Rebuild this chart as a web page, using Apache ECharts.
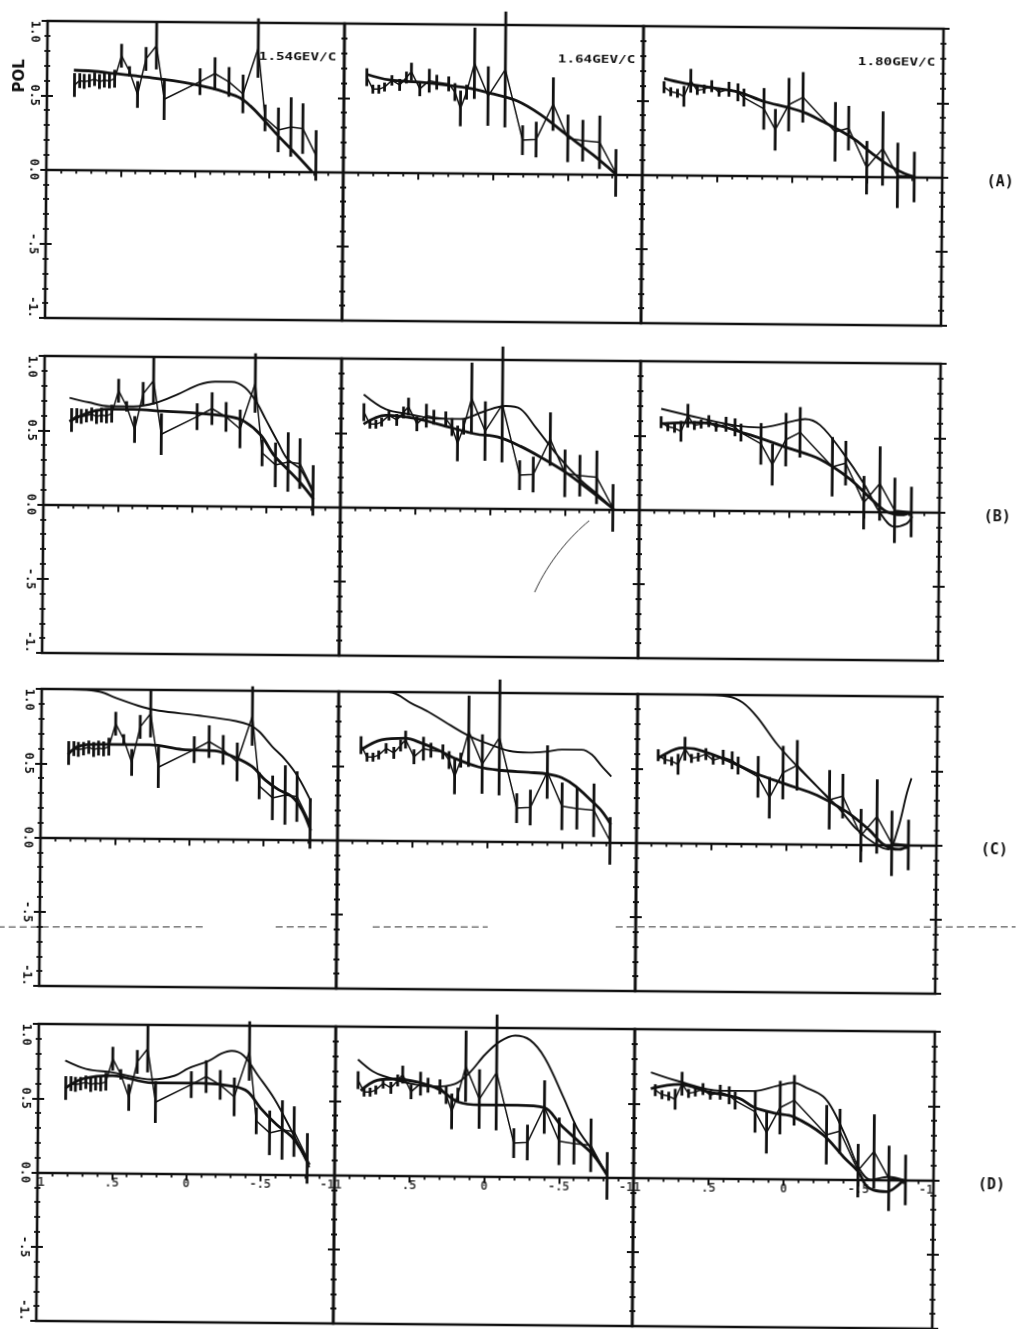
<!DOCTYPE html>
<html><head><meta charset="utf-8">
<script src="https://cdn.jsdelivr.net/npm/echarts@6/dist/echarts.min.js"></script>
<style>
html,body{margin:0;padding:0;background:#fff;overflow:hidden}
#chart{width:1018px;height:1329px;transform:rotate(0.5deg);transform-origin:50% 50%;}
</style></head><body><div id="chart"></div>
<script>
// ---------- texts ----------
const momenta = ['1.54GEV/C', '1.64GEV/C', '1.80GEV/C'];
const rowNames = ['(A)', '(B)', '(C)', '(D)'];
const yTickLabels = {'1': '1.0', '0.5': '0.5', '0': '0.0', '-0.5': '-.5', '-1': '-1.'};
const xTickValues = [1, 0.5, 0, -0.5, -1];
const xTickLabels = ['1', '.5', '0', '-.5', '-1'];
const yName = 'POL';

// ---------- measured data (cos theta, polarisation, error) ----------
const cos1 = [0.815,0.78,0.75,0.715,0.68,0.647,0.614,0.58,0.545,0.50,0.445,0.39,0.335,0.265,0.21,-0.03,-0.13,-0.225,-0.32,-0.42,-0.47,-0.56,-0.645,-0.725,-0.815];
const pol1 = [0.57,0.60,0.595,0.60,0.61,0.595,0.605,0.60,0.615,0.77,0.665,0.51,0.75,0.84,0.48,0.60,0.655,0.60,0.52,0.83,0.36,0.28,0.30,0.29,0.11];
const err1 = [0.08,0.05,0.05,0.045,0.045,0.05,0.05,0.05,0.06,0.08,0.035,0.09,0.08,0.16,0.14,0.09,0.11,0.1,0.13,0.2,0.09,0.15,0.2,0.17,0.17];

const cos2 = [0.848,0.807,0.767,0.729,0.68,0.628,0.583,0.55,0.493,0.43,0.38,0.30,0.258,0.22,0.18,0.128,0.036,-0.078,-0.197,-0.288,-0.40,-0.50,-0.60,-0.713,-0.823];
const pol2 = [0.64,0.56,0.56,0.575,0.62,0.59,0.64,0.68,0.565,0.62,0.61,0.60,0.545,0.435,0.545,0.74,0.52,0.70,0.225,0.23,0.47,0.24,0.225,0.215,0.01];
const err2 = [0.06,0.03,0.03,0.03,0.035,0.04,0.04,0.06,0.05,0.08,0.05,0.05,0.06,0.12,0.05,0.24,0.2,0.39,0.1,0.12,0.18,0.16,0.14,0.18,0.16];

const cos3 = [0.86,0.815,0.77,0.727,0.682,0.638,0.593,0.542,0.493,0.427,0.367,0.327,0.193,0.116,0.027,-0.067,-0.284,-0.373,-0.496,-0.602,-0.702,-0.813];
const pol3 = [0.59,0.56,0.55,0.53,0.635,0.57,0.58,0.60,0.56,0.58,0.56,0.525,0.45,0.31,0.48,0.53,0.30,0.325,0.06,0.19,0.01,0.0];
const err3 = [0.04,0.03,0.03,0.07,0.08,0.03,0.03,0.04,0.03,0.05,0.06,0.06,0.14,0.14,0.18,0.17,0.2,0.15,0.18,0.25,0.22,0.17];

// ---------- model curves ----------
const curveA1 = [[0.82,0.67],[0.7,0.665],[0.545,0.65],[0.4,0.635],[0.325,0.627],[0.15,0.605],[0,0.58],[-0.11,0.556],[-0.2,0.53],[-0.3,0.493],[-0.37,0.44],[-0.44,0.37],[-0.55,0.25],[-0.66,0.138],[-0.79,0.0]];
const curveA2 = [[0.85,0.66],[0.7,0.623],[0.5,0.61],[0.3,0.59],[0.15,0.57],[0,0.534],[-0.157,0.49],[-0.314,0.40],[-0.49,0.265],[-0.67,0.13],[-0.825,0.0]];
const curveA3 = [[0.86,0.649],[0.738,0.62],[0.55,0.59],[0.36,0.56],[0.193,0.50],[0.027,0.46],[-0.084,0.425],[-0.196,0.37],[-0.307,0.313],[-0.418,0.246],[-0.529,0.157],[-0.64,0.078],[-0.75,0.022],[-0.82,0.0]];

const curveB1a = [[0.83,0.56],[0.7,0.62],[0.565,0.645],[0.4,0.645],[0.2,0.635],[0,0.625],[-0.26,0.6],[-0.35,0.57],[-0.46,0.48],[-0.55,0.344],[-0.64,0.253],[-0.73,0.16],[-0.82,0.05]];
const curveB1b = [[0.83,0.72],[0.7,0.69],[0.565,0.665],[0.4,0.665],[0.25,0.69],[0.1,0.75],[-0.04,0.815],[-0.15,0.837],[-0.26,0.837],[-0.35,0.80],[-0.43,0.70],[-0.49,0.59],[-0.575,0.434],[-0.64,0.32],[-0.73,0.25],[-0.82,0.08]];
const curveB2a = [[0.85,0.56],[0.7,0.62],[0.5,0.6],[0.3,0.55],[0.1,0.5],[-0.05,0.48],[-0.2,0.42],[-0.35,0.34],[-0.5,0.25],[-0.65,0.14],[-0.83,0.0]];
const curveB2b = [[0.85,0.76],[0.7,0.66],[0.55,0.63],[0.35,0.6],[0.2,0.6],[0.05,0.65],[-0.1,0.69],[-0.2,0.67],[-0.3,0.55],[-0.45,0.36],[-0.6,0.2],[-0.72,0.1],[-0.83,0.0]];
const curveB3a = [[0.86,0.58],[0.6,0.59],[0.3,0.52],[0.0,0.42],[-0.2,0.35],[-0.4,0.22],[-0.55,0.08],[-0.65,0.0],[-0.75,-0.02],[-0.82,0.0]];
const curveB3b = [[0.86,0.68],[0.6,0.62],[0.35,0.57],[0.2,0.56],[0.0,0.6],[-0.1,0.62],[-0.2,0.58],[-0.35,0.4],[-0.5,0.18],[-0.6,0.0],[-0.7,-0.1],[-0.78,-0.08],[-0.82,-0.03]];

const curveC1a = [[0.82,0.56],[0.75,0.615],[0.61,0.63],[0.27,0.63],[0.05,0.60],[-0.17,0.593],[-0.31,0.548],[-0.42,0.49],[-0.51,0.40],[-0.6,0.336],[-0.69,0.29],[-0.76,0.2],[-0.82,0.06]];
const curveC1b = [[1.0,1.0],[0.8,1.0],[0.61,0.985],[0.5,0.944],[0.32,0.884],[0.21,0.86],[-0.06,0.83],[-0.31,0.795],[-0.4,0.77],[-0.465,0.727],[-0.555,0.626],[-0.645,0.537],[-0.73,0.425],[-0.82,0.257]];
const curveC2a = [[0.844,0.611],[0.71,0.678],[0.553,0.689],[0.44,0.656],[0.33,0.611],[0.218,0.556],[0.06,0.50],[-0.095,0.478],[-0.274,0.467],[-0.408,0.456],[-0.497,0.433],[-0.587,0.378],[-0.698,0.278],[-0.765,0.211],[-0.828,0.12]];
const curveC2b = [[0.98,1.0],[0.8,1.0],[0.665,1.0],[0.508,0.922],[0.397,0.867],[0.285,0.80],[0.173,0.733],[0.084,0.689],[-0.006,0.656],[-0.14,0.611],[-0.274,0.60],[-0.385,0.607],[-0.497,0.622],[-0.63,0.622],[-0.698,0.589],[-0.765,0.511],[-0.828,0.444]];
const curveC3a = [[0.86,0.57],[0.7,0.64],[0.6,0.63],[0.4,0.56],[0.2,0.47],[0.0,0.40],[-0.2,0.33],[-0.4,0.22],[-0.55,0.10],[-0.65,0.0],[-0.75,-0.03],[-0.82,0.0]];
const curveC3b = [[0.87,1.0],[0.6,1.0],[0.4,0.99],[0.3,0.95],[0.2,0.85],[0.067,0.67],[-0.07,0.52],[-0.2,0.39],[-0.35,0.24],[-0.47,0.1],[-0.6,0.0],[-0.68,-0.03],[-0.74,0.1],[-0.8,0.35],[-0.83,0.45]];

const curveD1a = [[0.82,0.567],[0.7,0.633],[0.5,0.656],[0.233,0.61],[-0.1,0.61],[-0.32,0.59],[-0.41,0.556],[-0.5,0.444],[-0.61,0.333],[-0.72,0.244],[-0.83,0.067]];
const curveD1b = [[0.82,0.755],[0.68,0.7],[0.5,0.678],[0.233,0.633],[0.08,0.66],[-0.01,0.71],[-0.144,0.76],[-0.23,0.81],[-0.3,0.83],[-0.38,0.8],[-0.478,0.667],[-0.59,0.51],[-0.7,0.31],[-0.83,0.05]];
const curveD2a = [[0.83,0.57],[0.72,0.64],[0.6,0.65],[0.45,0.63],[0.3,0.58],[0.18,0.50],[0.03,0.48],[-0.22,0.48],[-0.4,0.466],[-0.51,0.35],[-0.62,0.25],[-0.73,0.15],[-0.82,0.02]];
const curveD2b = [[0.85,0.78],[0.75,0.70],[0.68,0.67],[0.5,0.62],[0.35,0.60],[0.2,0.62],[0.1,0.70],[0.0,0.82],[-0.1,0.91],[-0.2,0.95],[-0.3,0.92],[-0.4,0.80],[-0.53,0.53],[-0.62,0.33],[-0.73,0.17],[-0.82,0.02]];
const curveD3a = [[0.89,0.60],[0.7,0.63],[0.5,0.58],[0.3,0.54],[0.2,0.48],[0.05,0.44],[-0.06,0.42],[-0.26,0.3],[-0.4,0.15],[-0.5,0.05],[-0.55,-0.04],[-0.6,-0.07],[-0.69,-0.08],[-0.76,-0.04],[-0.8,0.0]];
const curveD3b = [[0.89,0.71],[0.7,0.65],[0.43,0.59],[0.2,0.59],[0.05,0.625],[-0.06,0.648],[-0.15,0.614],[-0.26,0.557],[-0.33,0.46],[-0.42,0.27],[-0.5,0.08],[-0.58,0.0],[-0.7,0.02],[-0.8,0.0]];

// ---------- layout / style ----------
const colLeft = [42, 339, 638];
const colWidth = [297, 299, 300];
const rowTop = [25, 360, 693, 1028];
const rowHeight = 297;
const curveWidths = [2.8, 1.9];
const INK = '#111';
const monoFont = '"DejaVu Sans Mono", monospace';

const columns = [[cos1, pol1, err1], [cos2, pol2, err2], [cos3, pol3, err3]];
const panelCurves = [
  [[curveA1], [curveA2], [curveA3]],
  [[curveB1a, curveB1b], [curveB2a, curveB2b], [curveB3a, curveB3b]],
  [[curveC1a, curveC1b], [curveC2a, curveC2b], [curveC3a, curveC3b]],
  [[curveD1a, curveD1b], [curveD2a, curveD2b], [curveD3a, curveD3b]]
];
const key = v => String(Math.round(v * 10) / 10);

const grids = [], xAxes = [], yAxes = [], series = [];
for (let r = 0; r < 4; r++) {
  for (let c = 0; c < 3; c++) {
    const g = grids.length;
    grids.push({left: colLeft[c], top: rowTop[r], width: colWidth[c], height: rowHeight,
      show: true, borderColor: INK, borderWidth: 2.6, backgroundColor: 'transparent'});
    xAxes.push({gridIndex: g, type: 'value', min: -1, max: 1, interval: 0.5, inverse: true, position: 'bottom',
      axisLine: {show: true, onZero: true, lineStyle: {color: INK, width: 2.4}},
      axisTick: {show: true, length: 7, lineStyle: {color: INK, width: 2}},
      minorTick: {show: true, splitNumber: 5, length: 4, lineStyle: {color: INK, width: 1.8}},
      splitLine: {show: false}, minorSplitLine: {show: false},
      axisLabel: {show: false}});
    const yBase = yAxes.length;
    [['left', false], ['left', true], ['right', false], ['right', true]].forEach(([pos, inside], k) => {
      yAxes.push({gridIndex: g, type: 'value', position: pos, min: -1, max: 1, interval: 0.5,
        axisLine: {show: false, onZero: false},
        axisTick: {show: true, inside: inside, length: 6, lineStyle: {color: INK, width: 2}},
        minorTick: {show: true, splitNumber: 5, length: 3, lineStyle: {color: INK, width: 1.8}},
        splitLine: {show: false}, minorSplitLine: {show: false},
        axisLabel: {show: c === 0 && k === 0, rotate: -90, margin: 7, color: INK, fontFamily: monoFont,
          fontWeight: 'bold', fontSize: 12, alignMinLabel: 'right', alignMaxLabel: 'left',
          formatter: v => yTickLabels[key(v)] || ''}});
    });
    const [cs, ps, es] = columns[c];
    series.push({type: 'line', xAxisIndex: g, yAxisIndex: yBase, data: cs.map((x, i) => [x, ps[i]]),
      symbol: 'none', clip: false, silent: true, animation: false, z: 3,
      lineStyle: {color: INK, width: 1.5}});
    series.push({type: 'custom', xAxisIndex: g, yAxisIndex: yBase, data: cs.map((x, i) => [x, ps[i], es[i]]),
      clip: false, silent: true, animation: false, z: 4, encode: {x: 0, y: 1},
      renderItem: (params, api) => {
        const x = api.value(0), y = api.value(1), e = api.value(2);
        const p1 = api.coord([x, y - e]), p2 = api.coord([x, y + e]);
        return {type: 'line', shape: {x1: p1[0], y1: p1[1], x2: p2[0], y2: p2[1]},
          style: {stroke: INK, lineWidth: 2.8}};
      }});
    panelCurves[r][c].forEach((cv, k) => {
      series.push({type: 'line', xAxisIndex: g, yAxisIndex: yBase, data: cv, smooth: 0.35,
        symbol: 'none', clip: false, silent: true, animation: false, z: 5,
        lineStyle: {color: INK, width: curveWidths[k]}});
    });
    if (r === 3) {
      // x tick labels sitting just under the zero line
      series.push({type: 'scatter', xAxisIndex: g, yAxisIndex: yBase, symbolSize: 1, silent: true,
        animation: false, clip: false, z: 6, itemStyle: {color: 'rgba(0,0,0,0)'},
        data: xTickValues.map((v, i) => ({value: [v, 0], name: xTickLabels[i],
          label: {align: i === 0 ? 'left' : (i === xTickValues.length - 1 ? 'right' : 'center')}})),
        label: {show: true, position: 'bottom', distance: 4, formatter: p => p.name, color: INK,
          fontFamily: monoFont, fontWeight: 'bold', fontSize: 12}});
    }
  }
}

const graphics = [];
graphics.push({type: 'text', x: 15, y: 80, rotation: Math.PI / 2,
  style: {text: yName, align: 'center', verticalAlign: 'middle', font: 'bold 15px "DejaVu Sans"', fill: INK}});
momenta.forEach((t, c) => {
  graphics.push({type: 'text', x: colLeft[c] + colWidth[c] - 8, y: rowTop[0] + 34, scaleX: 1.3,
    style: {text: t, x: 0, y: 0, align: 'right', verticalAlign: 'middle', font: 'bold 11px ' + monoFont, fill: INK}});
});
rowNames.forEach((t, r) => {
  graphics.push({type: 'text', x: 996, y: rowTop[r] + rowHeight / 2 + 5,
    style: {text: t, align: 'center', verticalAlign: 'middle', font: 'bold 15px ' + monoFont, fill: INK}});
});
// copier artefacts: broken dashed streak and a stray scratch
[[0, 205], [278, 330], [375, 490], [618, 1018]].forEach(([a, b]) => {
  graphics.push({type: 'line', shape: {x1: a, y1: 931.4 - a * 0.00873, x2: b, y2: 931.4 - b * 0.00873},
    style: {stroke: '#333', lineWidth: 1, lineDash: [7, 4]}});
});
graphics.push({type: 'bezierCurve', shape: {x1: 534, y1: 592, x2: 588, y2: 520, cpx1: 548, cpy1: 560, cpx2: 570, cpy2: 535},
  style: {stroke: '#333', lineWidth: 1, fill: null}});

const chart = echarts.init(document.getElementById('chart'), null, {renderer: 'canvas'});
chart.setOption({
  animation: false,
  backgroundColor: '#fff',
  grid: grids, xAxis: xAxes, yAxis: yAxes, series: series,
  graphic: graphics
});
</script></body></html>
